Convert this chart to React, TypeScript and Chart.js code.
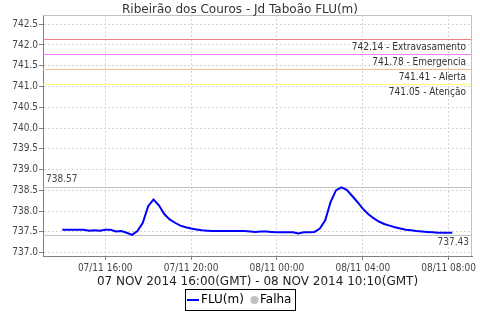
import React, { useEffect, useRef } from "react";
import { Chart, registerables } from "chart.js";

Chart.register(...registerables);

// hours since 07/11 00:00 (local)
const hours = [
  14.0, 14.25, 14.5, 14.75, 15.0, 15.25, 15.5, 15.75, 16.0, 16.25, 16.5, 16.75,
  17.0, 17.25, 17.5, 17.75, 18.0, 18.25, 18.5, 18.75, 19.0, 19.25, 19.5, 19.75,
  20.0, 20.25, 20.5, 20.75, 21.0, 21.25, 21.5, 21.75, 22.0, 22.25, 22.5, 22.75,
  23.0, 23.25, 23.5, 23.75, 24.0, 24.25, 24.5, 24.75, 25.0, 25.25, 25.5, 25.75,
  26.0, 26.25, 26.5, 26.75, 27.0, 27.25, 27.5, 27.75, 28.0, 28.25, 28.5, 28.75,
  29.0, 29.25, 29.5, 29.75, 30.0, 30.25, 30.5, 30.75, 31.0, 31.25, 31.5, 31.75,
  32.0, 32.17,
];
const flu = [
  737.55, 737.55, 737.55, 737.55, 737.55, 737.53, 737.54, 737.53, 737.55, 737.55, 737.51, 737.52,
  737.48, 737.43, 737.52, 737.72, 738.12, 738.28, 738.14, 737.93, 737.8, 737.72, 737.65, 737.61,
  737.58, 737.56, 737.54, 737.53, 737.52, 737.52, 737.52, 737.52, 737.52, 737.52, 737.52, 737.51,
  737.5, 737.51, 737.51, 737.5, 737.49, 737.49, 737.49, 737.49, 737.46, 737.49, 737.49, 737.5,
  737.58, 737.78, 738.22, 738.5, 738.57, 738.51, 738.37, 738.22, 738.06, 737.93, 737.83, 737.75,
  737.69, 737.65, 737.61, 737.58, 737.55, 737.54, 737.52, 737.51, 737.5, 737.49, 737.48, 737.48,
  737.48, 737.48,
];
const xTicks = [16, 20, 24, 28, 32];
const yTicks = [737.0, 737.5, 738.0, 738.5, 739.0, 739.5, 740.0, 740.5, 741.0, 741.5, 742.0, 742.5];
const thresholdValues = [742.14, 741.78, 741.41, 741.05];
const thresholdNames = ["Extravasamento", "Emergencia", "Alerta", "Atenção"];
const thresholdColors = ["#f08080", "#ff80ff", "#f8c090", "#ffff70"];
const maxValue = 738.57;
const minValue = 737.43;
const title = "Ribeirão dos Couros - Jd Taboão FLU(m)";
const subtitle = "07 NOV 2014 16:00(GMT) - 08 NOV 2014 10:10(GMT)";
const legendLabels = ["FLU(m)", "Falha"];

const FONT = '"DejaVu Sans Condensed", "Liberation Sans", sans-serif';
const FONT_WIDE = '"DejaVu Sans", sans-serif';

function fmtHour(h: number) {
  const day = h >= 24 ? "08/11" : "07/11";
  const hh = Math.floor(h % 24);
  return `${day} ${String(hh).padStart(2, "0")}:00`;
}

const overlay = {
  id: "overlay",
  beforeDatasetsDraw(chart: any) {
    const { ctx, chartArea: a, scales } = chart;
    const y = scales.y;
    ctx.save();
    ctx.lineWidth = 1;
    thresholdValues.forEach((v, i) => {
      const py = Math.round(y.getPixelForValue(v)) + 0.5;
      ctx.strokeStyle = thresholdColors[i];
      ctx.beginPath();
      ctx.moveTo(a.left, py);
      ctx.lineTo(a.right, py);
      ctx.stroke();
    });
    [maxValue, minValue].forEach((v) => {
      const py = Math.round(y.getPixelForValue(v)) + 0.5;
      ctx.strokeStyle = "#c0c0c0";
      ctx.beginPath();
      ctx.moveTo(a.left, py);
      ctx.lineTo(a.right, py);
      ctx.stroke();
    });
    ctx.restore();
  },
  afterDraw(chart: any) {
    const { ctx, chartArea: a, scales } = chart;
    const y = scales.y;
    ctx.save();
    ctx.strokeStyle = "#c0c0c0";
    ctx.lineWidth = 1;
    ctx.beginPath();
    ctx.moveTo(a.left, a.top + 0.5);
    ctx.lineTo(a.right - 0.5, a.top + 0.5);
    ctx.lineTo(a.right - 0.5, a.bottom);
    ctx.stroke();

    ctx.fillStyle = "#333";
    ctx.font = `10px ${FONT}`;
    ctx.textAlign = "right";
    ctx.textBaseline = "top";
    thresholdValues.forEach((v, i) => {
      const py = y.getPixelForValue(v);
      ctx.fillText(`${v.toFixed(2)} - ${thresholdNames[i]}`, a.right - 6, py + 3);
    });
    ctx.font = `10px ${FONT}`;
    ctx.fillStyle = "#444";
    ctx.textAlign = "left";
    ctx.textBaseline = "bottom";
    ctx.fillText(maxValue.toFixed(2), a.left + 3, y.getPixelForValue(maxValue) - 3);
    ctx.textAlign = "right";
    ctx.textBaseline = "top";
    ctx.fillText(minValue.toFixed(2), a.right - 3, y.getPixelForValue(minValue) + 3);

    ctx.fillStyle = "#333";
    ctx.font = `12px ${FONT_WIDE}`;
    ctx.textAlign = "center";
    ctx.textBaseline = "middle";
    ctx.fillText(title, 240, 10);
    ctx.fillStyle = "#222";
    ctx.fillText(subtitle, (a.left + a.right) / 2, 282);

    ctx.strokeStyle = "#000";
    ctx.lineWidth = 1;
    ctx.strokeRect(185.5, 289.5, 110, 21);
    ctx.strokeStyle = "#0000ff";
    ctx.lineWidth = 2;
    ctx.beginPath();
    ctx.moveTo(187, 300);
    ctx.lineTo(199, 300);
    ctx.stroke();
    ctx.fillStyle = "#000";
    ctx.font = `12px ${FONT_WIDE}`;
    ctx.textAlign = "left";
    ctx.textBaseline = "middle";
    ctx.fillText(legendLabels[0], 201, 300);
    ctx.fillStyle = "#c0c0c0";
    ctx.beginPath();
    ctx.arc(254.5, 300, 4, 0, Math.PI * 2);
    ctx.fill();
    ctx.fillStyle = "#000";
    ctx.fillText(legendLabels[1], 260, 300);
    ctx.restore();
  },
};

export default function App() {
  const ref = useRef<HTMLCanvasElement | null>(null);
  useEffect(() => {
    document.body.style.margin = "0";
    const canvas = ref.current!;
    const chart = new Chart(canvas, {
      type: "line",
      data: {
        datasets: [
          {
            label: legendLabels[0],
            data: hours.map((h, i) => ({ x: h, y: flu[i] })),
            borderColor: "#0000ff",
            borderWidth: 2,
            pointRadius: 0,
            tension: 0,
            fill: false,
          },
        ],
      },
      options: {
        animation: false,
        responsive: false,
        devicePixelRatio: 1,
        layout: { padding: { top: 15, right: 8, left: 0, bottom: 0 } },
        plugins: { legend: { display: false }, title: { display: false }, tooltip: { enabled: false } },
        scales: {
          x: {
            type: "linear",
            min: 13.1,
            max: 33.09,
            afterFit: (s: any) => {
              s.height = 64;
            },
            afterBuildTicks: (s: any) => {
              s.ticks = xTicks.map((v) => ({ value: v }));
            },
            ticks: {
              callback: (v: any) => fmtHour(Number(v)),
              font: { family: FONT, size: 10 },
              color: "#444",
              padding: 2,
              maxRotation: 0,
              autoSkip: false,
            },
            grid: { color: "#d4d4d4", tickColor: "#808080", tickLength: 4 },
            border: { color: "#808080", dash: [2, 2] },
          },
          y: {
            min: 736.92,
            max: 742.72,
            afterFit: (s: any) => {
              s.width = 43;
            },
            afterBuildTicks: (s: any) => {
              s.ticks = yTicks.map((v) => ({ value: v }));
            },
            ticks: {
              callback: (v: any) => Number(v).toFixed(1),
              font: { family: FONT, size: 10 },
              color: "#444",
              padding: 1,
              autoSkip: false,
            },
            grid: { color: "#d4d4d4", tickColor: "#808080", tickLength: 4 },
            border: { color: "#808080", dash: [2, 2] },
          },
        },
      },
      plugins: [overlay],
    });
    return () => chart.destroy();
  }, []);
  return <canvas ref={ref} width={480} height={320} style={{ display: "block" }} />;
}
